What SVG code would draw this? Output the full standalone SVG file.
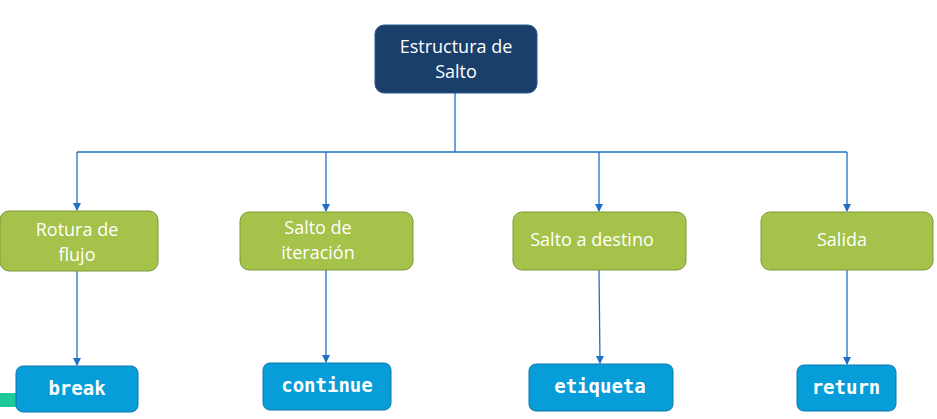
<svg xmlns="http://www.w3.org/2000/svg" width="937" height="419" viewBox="0 0 937 419">
<defs>
<marker id="ah" markerWidth="8" markerHeight="8" refX="7" refY="4" orient="auto" markerUnits="userSpaceOnUse">
<path d="M0,0 L8,4 L0,8 Z" fill="#1f6fc5"/>
</marker>
<style>
.top{fill:#1b3f6b;stroke:#2a5a8f;stroke-width:1}
.grn{fill:#a5c24a;stroke:#7d9a36;stroke-width:1}
.blu{fill:#069dd8;stroke:#0b78ae;stroke-width:1}
.t{font-family:"Open Sans","Liberation Sans",sans-serif;font-size:18px;fill:#ffffff;text-anchor:middle}
.m{font-family:"DejaVu Sans Mono","Liberation Mono",monospace;font-size:19px;font-weight:bold;fill:#ffffff;text-anchor:middle}
.c{fill:none;stroke:#1f6fc5;stroke-width:1.3}
</style>
</defs>
<rect x="0" y="393" width="17" height="14" fill="#1fc99a"/>
<g id="connectors">
<path class="c" d="M455,93 V152"/>
<path class="c" d="M77,152 H847"/>
<path class="c" d="M77,152 V210" marker-end="url(#ah)"/>
<path class="c" d="M326,152 V211" marker-end="url(#ah)"/>
<path class="c" d="M599,152 V211" marker-end="url(#ah)"/>
<path class="c" d="M847,152 V211" marker-end="url(#ah)"/>
<path class="c" d="M77,271 V365" marker-end="url(#ah)"/>
<path class="c" d="M326,270 V362" marker-end="url(#ah)"/>
<path class="c" d="M599,270 L600,363" marker-end="url(#ah)"/>
<path class="c" d="M847,270 V364" marker-end="url(#ah)"/>
</g>
<g id="n-root">
<rect class="top" x="375" y="25" width="162" height="68" rx="9"/>
<text class="t" x="456" y="53">Estructura de</text>
<text class="t" x="456" y="78">Salto</text>
</g>
<g id="n-rotura">
<rect class="grn" x="0" y="211" width="158" height="60" rx="9"/>
<text class="t" x="77" y="236">Rotura de</text>
<text class="t" x="77" y="261">flujo</text>
</g>
<g id="n-iteracion">
<rect class="grn" x="240" y="212" width="173" height="58" rx="9"/>
<text class="t" x="318" y="234">Salto de</text>
<text class="t" x="318" y="259">iteración</text>
</g>
<g id="n-destino">
<rect class="grn" x="513" y="212" width="173" height="58" rx="9"/>
<text class="t" x="592" y="246">Salto a destino</text>
</g>
<g id="n-salida">
<rect class="grn" x="761" y="212" width="172" height="58" rx="9"/>
<text class="t" x="842" y="246">Salida</text>
</g>
<g id="n-break">
<rect class="blu" x="16" y="366" width="122" height="46" rx="7"/>
<text class="m" x="77" y="395">break</text>
</g>
<g id="n-continue">
<rect class="blu" x="263" y="363" width="128" height="47" rx="7"/>
<text class="m" x="327" y="392">continue</text>
</g>
<g id="n-etiqueta">
<rect class="blu" x="529" y="364" width="144" height="47" rx="7"/>
<text class="m" x="600" y="393">etiqueta</text>
</g>
<g id="n-return">
<rect class="blu" x="797" y="365" width="99" height="46" rx="7"/>
<text class="m" x="846" y="394">return</text>
</g>
</svg>
